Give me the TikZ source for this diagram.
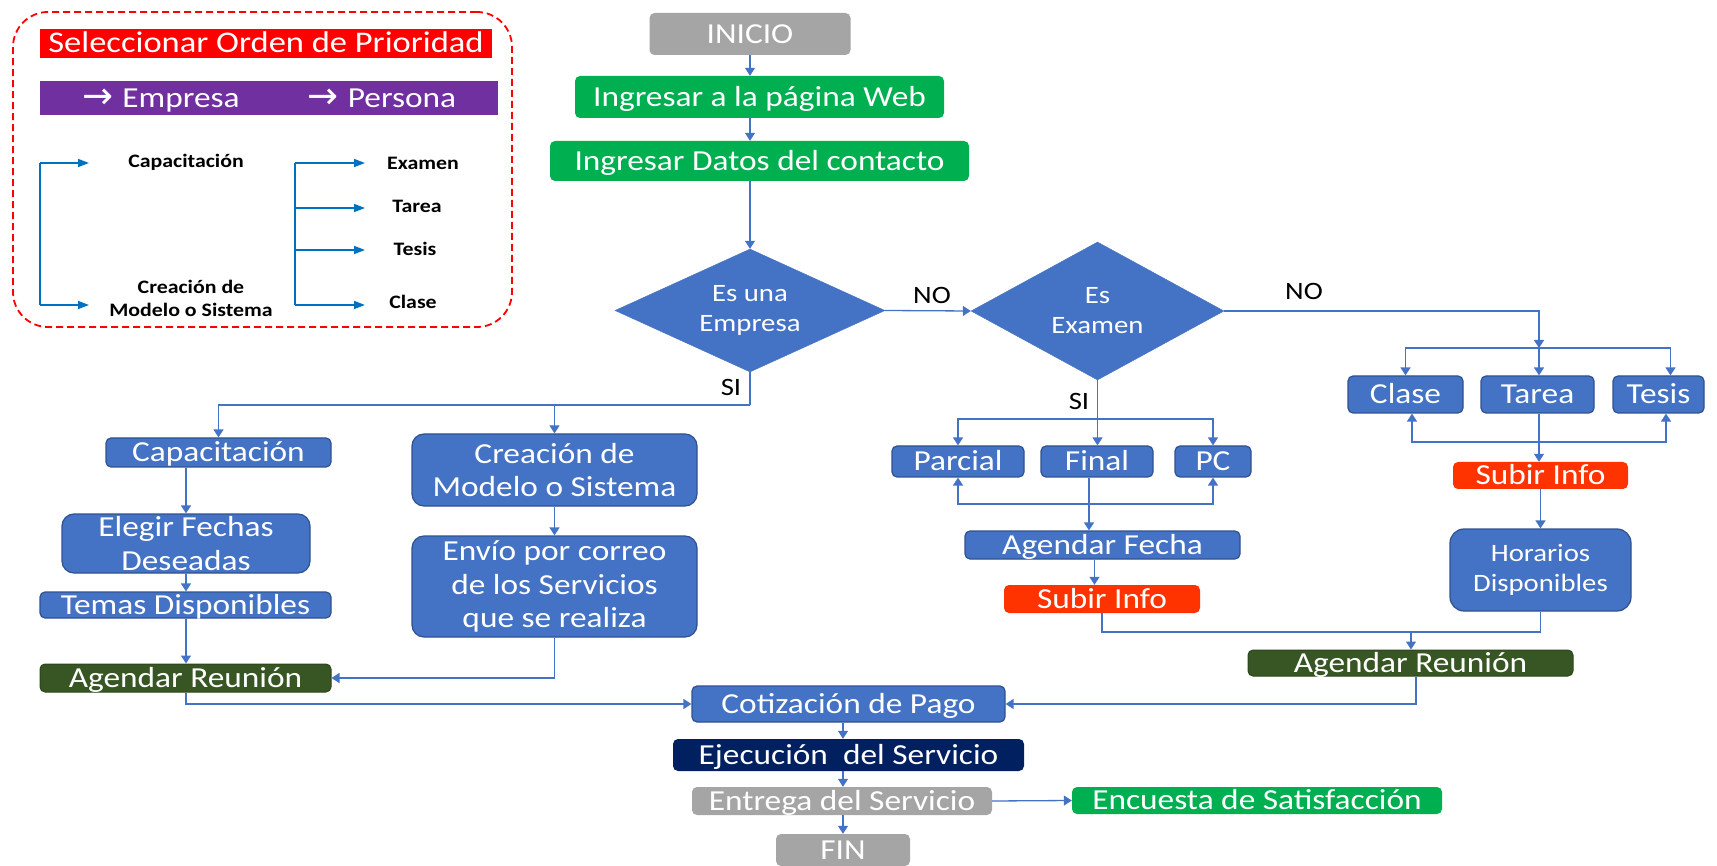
\documentclass[tikz,border=0pt]{standalone}
\usepackage{fontspec}
\setmainfont{Carlito}[FakeStretch=1.15]
\newfontfamily\symfont{DejaVu Sans}
\usetikzlibrary{shapes.geometric,arrows.meta}

\definecolor{flowblue}{HTML}{4472C4}
\definecolor{flowedge}{HTML}{2F528F}
\definecolor{okgreen}{HTML}{00B050}
\definecolor{stepgray}{HTML}{A5A5A5}
\definecolor{legendred}{HTML}{FF0000}
\definecolor{legendpurple}{HTML}{7030A0}
\definecolor{uploadred}{HTML}{FF3300}
\definecolor{meetgreen}{HTML}{375623}
\definecolor{navyfill}{HTML}{002060}
\definecolor{legendblue}{HTML}{0070C0}

% a wide arrow glyph used in front of the legend words
\newcommand{\legendarrow}{{\symfont\fontsize{37}{37}\selectfont\raisebox{-1pt}{→}}\hspace{9pt}}

\begin{document}
\begin{tikzpicture}[x=1pt,y=-1pt,
  box/.style={rectangle, rounded corners=5pt, inner sep=0pt, text=white,
    font=\fontsize{29}{34}\selectfont, text height=21.5pt, text depth=3pt},
  bluebox/.style={box, fill=flowblue, draw=flowedge, line width=1.2pt},
  greenbox/.style={box, fill=okgreen},
  graybox/.style={box, fill=stepgray},
  meetbox/.style={box, fill=meetgreen, draw=meetgreen!80!black, line width=1pt},
  uploadbox/.style={box, fill=uploadred},
  navybox/.style={box, fill=navyfill},
  tallbox/.style={rectangle, rounded corners=12pt, inner sep=0pt, fill=flowblue,
    draw=flowedge, line width=1.2pt},
  boxtext/.style={text=white, align=center, inner sep=0pt,
    font=\fontsize{29}{33.5}\selectfont},
  decision/.style={diamond, inner sep=0pt, fill=flowblue, draw=flowblue},
  dtext/.style={text=white, align=center, inner sep=0pt,
    font=\fontsize{25}{30}\selectfont},
  answer/.style={inner sep=0pt, font=\fontsize{25}{30}\selectfont,
    text height=18.5pt, text depth=2.5pt},
  flow/.style={draw=flowblue, line width=1.3pt},
  arr/.style={flow, -{Triangle[length=8pt,width=10pt]}},
  legline/.style={draw=legendblue, line width=1.5pt},
  legarr/.style={legline, -{Triangle[length=11pt,width=8pt]}},
  legtext/.style={inner sep=0pt, align=center,
    font=\bfseries\fontsize{19}{23}\selectfont},
]
\useasboundingbox (0,0) rectangle (1717,866);

% ---------- priority legend ----------
\node[draw=legendred, line width=1.8pt, dash pattern=on 7pt off 4pt,
      rounded corners=35pt, minimum width=499pt, minimum height=315pt]
      (legend) at (262.5,169.5) {};
\node[box, rounded corners=0pt, fill=legendred, minimum width=452pt, minimum height=29pt,
      font=\fontsize{30}{34}\selectfont] (prio) at (266,43.5) {Seleccionar Orden de Prioridad};
\node[fill=legendpurple, inner sep=0pt, minimum width=458pt, minimum height=34pt]
      (who) at (269,98) {};
\node[box] (emp) at (161,98) {\legendarrow Empresa};
\node[box] (per) at (382,98) {\legendarrow Persona};

\node[legtext] (lcap) at (186,162) {Capacitación};
\node[legtext] (lcrea) at (191,298.5) {Creación de\\Modelo o Sistema};
\node[legtext] (lexa) at (423,163) {Examen};
\node[legtext] (ltar) at (417,206) {Tarea};
\node[legtext] (ltes) at (415,249) {Tesis};
\node[legtext] (lcla) at (413,302) {Clase};

\coordinate (lt) at (40,163);   \coordinate (ltE) at (89,163);
\coordinate (lb) at (40,305);   \coordinate (lbE) at (89,305);
\draw[legline] (lt) -- (lb);
\draw[legarr] (lt) -- (ltE);
\draw[legarr] (lb) -- (lbE);

\coordinate (rt) at (295,163);  \coordinate (rtE) at (365,163);
\coordinate (rm1) at (295,208); \coordinate (rm1E) at (365,208);
\coordinate (rm2) at (295,250); \coordinate (rm2E) at (365,250);
\coordinate (rb) at (295,305);  \coordinate (rbE) at (365,305);
\draw[legline] (rt) -- (rb);
\draw[legarr] (rt) -- (rtE);
\draw[legarr] (rm1) -- (rm1E);
\draw[legarr] (rm2) -- (rm2E);
\draw[legarr] (rb) -- (rbE);

% ---------- entry ----------
\node[graybox, minimum width=201pt, minimum height=42pt] (inicio) at (750,34) {INICIO};
\node[greenbox, minimum width=369pt, minimum height=42pt] (web) at (759.5,97) {Ingresar a la página Web};
\node[greenbox, minimum width=419pt, minimum height=40pt] (datos) at (759.5,161) {Ingresar Datos del contacto};

\node[decision, minimum width=270pt, minimum height=123pt] (d1) at (750,310.5) {};
\node[dtext] (d1t) at (d1) {Es una\\Empresa};
\node[decision, minimum width=253pt, minimum height=138pt] (d2) at (1097.5,311) {};
\node[dtext] (d2t) at (d2) {Es\\Examen};

\node[answer] (no1) at (932,296) {NO};
\node[answer] (si1) at (731,388) {SI};
\node[answer] (no2) at (1304,292) {NO};
\node[answer] (si2) at (1079,402) {SI};

% ---------- company branch ----------
\node[bluebox, minimum width=225pt, minimum height=29pt] (cap) at (218.5,452.5) {Capacitación};
\node[tallbox, minimum width=248pt, minimum height=59pt] (elegir) at (186,543.5) {};
\node[boxtext] (elegirt) at (elegir) {Elegir Fechas\\Deseadas};
\node[bluebox, minimum width=291pt, minimum height=26pt] (temas) at (185.5,605) {Temas Disponibles};
\node[meetbox, minimum width=291pt, minimum height=28pt] (agL) at (185.5,678) {Agendar Reunión};

\node[tallbox, minimum width=285pt, minimum height=72pt] (crea) at (554.5,470) {};
\node[boxtext] (creat) at (crea) {Creación de\\Modelo o Sistema};
\node[tallbox, minimum width=285pt, minimum height=101pt] (envio) at (554.5,586.5) {};
\node[boxtext] (enviot) at (envio) {Envío por correo\\de los Servicios\\que se realiza};

% ---------- exam branch ----------
\node[bluebox, minimum width=132pt, minimum height=31pt] (parcial) at (958,461.5) {Parcial};
\node[bluebox, minimum width=112pt, minimum height=31pt] (final) at (1097,461.5) {Final};
\node[bluebox, minimum width=76pt, minimum height=31pt] (pc) at (1213,461.5) {PC};
\node[bluebox, minimum width=275pt, minimum height=28pt] (agf) at (1102.5,545) {Agendar Fecha};
\node[uploadbox, minimum width=196pt, minimum height=28pt] (subL) at (1102,599) {Subir Info};

% ---------- other services branch ----------
\node[bluebox, minimum width=115pt, minimum height=37pt] (clase) at (1405.5,394.5) {Clase};
\node[bluebox, minimum width=113pt, minimum height=37pt] (tarea) at (1537.5,394.5) {Tarea};
\node[bluebox, minimum width=91pt, minimum height=37pt] (tesis) at (1658.5,394.5) {Tesis};
\node[uploadbox, minimum width=175pt, minimum height=27pt] (subR) at (1540.5,475.5) {Subir Info};
\node[tallbox, rounded corners=14pt, minimum width=181pt, minimum height=82pt] (hor) at (1540.5,570) {};
\node[dtext] (hort) at (hor) {Horarios\\Disponibles};
\node[meetbox, minimum width=325pt, minimum height=26pt] (agR) at (1410.5,663) {Agendar Reunión};

% ---------- closing steps ----------
\node[bluebox, minimum width=313pt, minimum height=36pt] (cot) at (848.5,704) {Cotización de Pago};
\node[navybox, minimum width=351pt, minimum height=32pt] (ejec) at (848.5,755) {Ejecución\ \ del Servicio};
\node[graybox, minimum width=300pt, minimum height=28pt] (entrega) at (842,801) {Entrega del Servicio};
\node[greenbox, minimum width=370pt, minimum height=27pt] (encuesta) at (1257,800.5) {Encuesta de Satisfacción};
\node[graybox, minimum width=134pt, minimum height=32pt] (fin) at (843,850) {FIN};

% ---------- connectors ----------
\draw[arr] (inicio.south) -- (inicio.south |- web.north);
\draw[arr] (web.south -| inicio.south) -- (datos.north -| inicio.south);
\draw[arr] (datos.south -| d1.north) -- (d1.north);
\draw[arr] (d1.east) -- (d2.west);

\coordinate (split1) at (750,405);
\draw[flow] (d1.south) -- (split1);
\draw[arr] (split1) -| (cap.north);
\draw[arr] (split1) -| (crea.north);
\draw[arr] (cap.south -| elegir.north) -- (elegir.north);
\draw[arr] (elegir.south) -- (temas.north -| elegir.south);
\draw[arr] (temas.south -| elegir.south) -- (agL.north -| elegir.south);
\draw[arr] (crea.south) -- (envio.north);
\draw[arr] (envio.south) |- (agL.east);
\draw[arr] (agL.south -| elegir.south) |- (cot.west);

\coordinate (split2) at (1097.5,419);
\draw[arr] (d2.south) -- (d2.south |- final.north);
\draw[arr] (split2) -| (parcial.north);
\draw[arr] (split2) -| (pc.north);
\coordinate (merge2) at (1089,504);
\draw[arr] (final.south -| merge2) -- (agf.north -| merge2);
\draw[arr] (merge2) -| (parcial.south);
\draw[arr] (merge2) -| (pc.south);
\draw[arr] ([xshift=-8pt]agf.south) -- ([xshift=-8pt]agf.south |- subL.north);

\coordinate (split3) at (1539,348);
\draw[arr] (d2.east) -| (split3);
\draw[arr] (split3) -| (clase.north);
\draw[arr] (split3) -- (split3 |- tarea.north);
\draw[arr] (split3) -| ([xshift=12pt]tesis.north);
\coordinate (merge3) at (1539,442);
\draw[arr] (tarea.south -| merge3) -- (subR.north -| merge3);
\draw[arr] (merge3) -| ([xshift=6.5pt]clase.south);
\draw[arr] (merge3) -| ([xshift=7.5pt]tesis.south);
\draw[arr] (subR.south) -- (hor.north);

\coordinate (join) at (1411,632);
\draw[flow] (subL.south) |- (join) -| (hor.south);
\draw[arr] (join) -- (agR.north -| join);
\draw[arr] ([xshift=5.5pt]agR.south) |- (cot.east);

\draw[arr] (cot.south -| fin.north) -- (ejec.north -| fin.north);
\draw[arr] (ejec.south -| fin.north) -- (entrega.north -| fin.north);
\draw[arr] (entrega.south -| fin.north) -- (fin.north);
\draw[arr] (entrega.east) -- (encuesta.west);
\end{tikzpicture}
\end{document}
